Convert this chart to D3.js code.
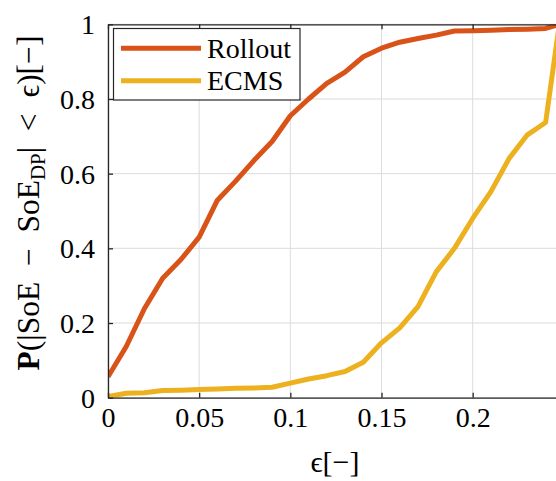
<!DOCTYPE html>
<html><head><meta charset="utf-8">
<script src="https://cdn.jsdelivr.net/npm/d3@7"></script>
<style>body{margin:0;background:#fff}svg{display:block}</style>
</head><body>
<script>
const epsValues = [0,0.01,0.02,0.03,0.04,0.05,0.06,0.07,0.08,0.09,0.10,0.11,0.12,0.13,0.14,0.15,0.16,0.17,0.18,0.19,0.20,0.21,0.22,0.23,0.24,0.2475];
const rollout = [0.056,0.137,0.239,0.320,0.370,0.430,0.529,0.580,0.635,0.686,0.755,0.800,0.842,0.872,0.913,0.936,0.952,0.962,0.971,0.982,0.983,0.984,0.986,0.987,0.989,1.0];
const ecms = [0.003,0.012,0.013,0.019,0.020,0.022,0.023,0.025,0.026,0.028,0.039,0.050,0.059,0.070,0.095,0.147,0.187,0.244,0.337,0.400,0.480,0.552,0.641,0.704,0.737,1.0];
const seriesNames = ["Rollout","ECMS"];
const seriesColors = ["#D95319","#EDB120"];
const xTicks = [0,0.05,0.1,0.15,0.2];
const xTickLabels = ["0","0.05","0.1","0.15","0.2"];
const yTicks = [0,0.2,0.4,0.6,0.8,1];
const yTickLabels = ["0","0.2","0.4","0.6","0.8","1"];

const FONT="'Liberation Serif','Times New Roman',serif";
const W=556,H=481;
const L=108,R=556,T=24.3,B=397.7;
const svg=d3.select("body").append("svg").attr("width",W).attr("height",H);
const x=d3.scaleLinear().domain([0,0.2457]).range([L,R]);
const y=d3.scaleLinear().domain([0,1]).range([B,T]);

svg.append("defs").append("clipPath").attr("id","clip").append("rect")
  .attr("x",L).attr("y",T).attr("width",R-L).attr("height",B-T);

// grid
const g=svg.append("g");
g.selectAll(".gx").data(xTicks).join("line").attr("x1",d=>x(d)).attr("x2",d=>x(d)).attr("y1",T).attr("y2",B)
  .attr("stroke","#dcdcdc").attr("stroke-width",1);
g.selectAll(".gy").data(yTicks).join("line").attr("y1",d=>y(d)).attr("y2",d=>y(d)).attr("x1",L).attr("x2",R)
  .attr("stroke","#dcdcdc").attr("stroke-width",1);

// lines
const data=[rollout,ecms];
const line=d3.line().x((d,i)=>x(epsValues[i])).y(d=>y(d));
svg.append("g").attr("clip-path","url(#clip)").selectAll("path").data(data).join("path")
  .attr("d",d=>line(d)).attr("fill","none").attr("stroke",(d,i)=>seriesColors[i])
  .attr("stroke-width",5).attr("stroke-linejoin","round");

// axes
const axColor="#262626";
const xb=svg.append("g").attr("transform",`translate(0,${B})`)
  .call(d3.axisBottom(x).tickValues(xTicks).tickFormat((d,i)=>xTickLabels[i]).tickSizeInner(-5).tickSizeOuter(0).tickPadding(9));
const xt=svg.append("g").attr("transform",`translate(0,${T})`)
  .call(d3.axisTop(x).tickValues(xTicks).tickFormat("").tickSizeInner(-5).tickSizeOuter(0));
const yl=svg.append("g").attr("transform",`translate(${L},0)`)
  .call(d3.axisLeft(y).tickValues(yTicks).tickFormat((d,i)=>yTickLabels[i]).tickSizeInner(-5).tickSizeOuter(0).tickPadding(13));
[xb,xt,yl].forEach(a=>{
  a.attr("font-family",null).attr("font-size",null);
  a.select(".domain").attr("stroke",axColor).attr("stroke-width",1.3);
  a.selectAll(".tick line").attr("stroke",axColor).attr("stroke-width",1.3);
  a.selectAll(".tick text").style("font-size","28px").attr("fill","#000");
});
xb.selectAll(".tick text").attr("dy","0.71em");
yl.selectAll(".tick text").attr("dy","0.34em");

// x label
svg.append("text").attr("x",335).attr("y",472).attr("text-anchor","middle").style("font-size","30px")
  .text("ϵ[−]");

// y label
const ylab=svg.append("text").attr("transform",`translate(39,203) rotate(-90)`).attr("text-anchor","middle").style("font-size","31.5px");
ylab.append("tspan").style("font-weight","bold").text("P");
ylab.append("tspan").text("(|SoE\u2002−\u2002SoE");
ylab.append("tspan").style("font-size","21px").attr("dy",6).text("DP");
ylab.append("tspan").attr("dy",-6).text("|\u2002<\u2002ϵ)[−]");

// legend
const lg=svg.append("g");
lg.append("rect").attr("x",113.5).attr("y",28.5).attr("width",186.5).attr("height",71.5)
  .attr("fill","#fff").attr("stroke",axColor).attr("stroke-width",1.2);
seriesNames.forEach((n,i)=>{
  const yy=48.3+i*32.4;
  lg.append("line").attr("x1",121).attr("x2",201).attr("y1",yy).attr("y2",yy)
    .attr("stroke",seriesColors[i]).attr("stroke-width",5);
  lg.append("text").attr("x",207).attr("y",yy).attr("dy","0.34em").style("font-size","28px").text(n);
});

svg.selectAll("text").style("font-family",FONT).style("fill","#000");
</script>
</body></html>
